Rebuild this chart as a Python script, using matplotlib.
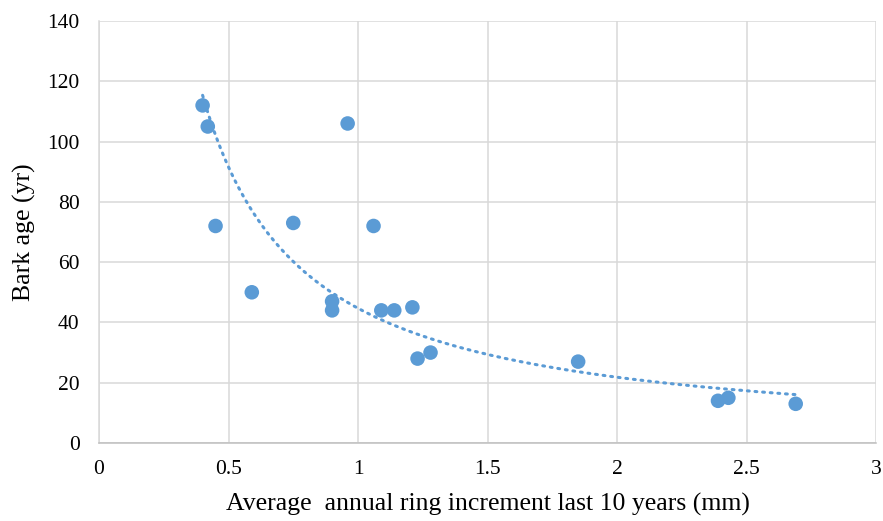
import numpy as np
import matplotlib
matplotlib.use("Agg")
import matplotlib.pyplot as plt

# ring increment (mm) vs bark age (yr)
increment = [0.40, 0.42, 0.45, 0.59, 0.75, 0.96, 0.90, 0.90, 1.06, 1.09,
             1.14, 1.21, 1.23, 1.28, 1.85, 2.39, 2.43, 2.69]
bark_age = [112, 105, 72, 50, 73, 106, 47, 44, 72, 44,
            44, 45, 28, 30, 27, 14, 15, 13]

x_ticks = [0, 0.5, 1, 1.5, 2, 2.5, 3]
x_labels = ["0", "0.5", "1", "1.5", "2", "2.5", "3"]
y_ticks = [0, 20, 40, 60, 80, 100, 120, 140]

plt.rcParams['font.family'] = ['Liberation Serif', 'DejaVu Serif']
blue = "#5B9BD5"

fig = plt.figure(figsize=(8.83, 5.21), dpi=100, facecolor="white")
ax = fig.add_axes([99/883, 1 - 443/521, (876-99)/883, (443-21)/521])

# power trendline (least squares in log space, like Excel)
x = np.array(increment)
y = np.array(bark_age)
b, loga = np.polyfit(np.log(x), np.log(y), 1)
xs = np.linspace(x.min(), x.max(), 200)
ax.plot(xs, np.exp(loga) * xs ** b, color=blue, lw=2.2,
        linestyle=(0, (0.6, 1.9)), dash_capstyle="round", zorder=3)

ax.scatter(x, y, s=110, color=blue, edgecolors="none", zorder=4)

ax.set_xlim(0, 3)
ax.set_ylim(0, 140)
ax.set_xticks(x_ticks)
ax.set_xticklabels(x_labels)
ax.set_yticks(y_ticks)
ax.grid(True, color="#D9D9D9", lw=1.1)
ax.set_axisbelow(True)
for s in ["top", "right"]:
    ax.spines[s].set_visible(False)
ax.spines["left"].set_color("#D9D9D9")
ax.spines["bottom"].set_color("#BFBFBF")
ax.spines["left"].set_linewidth(1.1)
ax.spines["bottom"].set_linewidth(1.1)
ax.tick_params(length=0, labelsize=15.5, labelcolor="black")
ax.tick_params(axis="y", pad=14)
ax.tick_params(axis="x", pad=12)

ax.set_xlabel("Average  annual ring increment last 10 years (mm)", fontsize=18.5, labelpad=10)
ax.set_ylabel("Bark age (yr)", fontsize=18.5, labelpad=8)

fig.savefig("out.png", dpi=100, facecolor="white")
